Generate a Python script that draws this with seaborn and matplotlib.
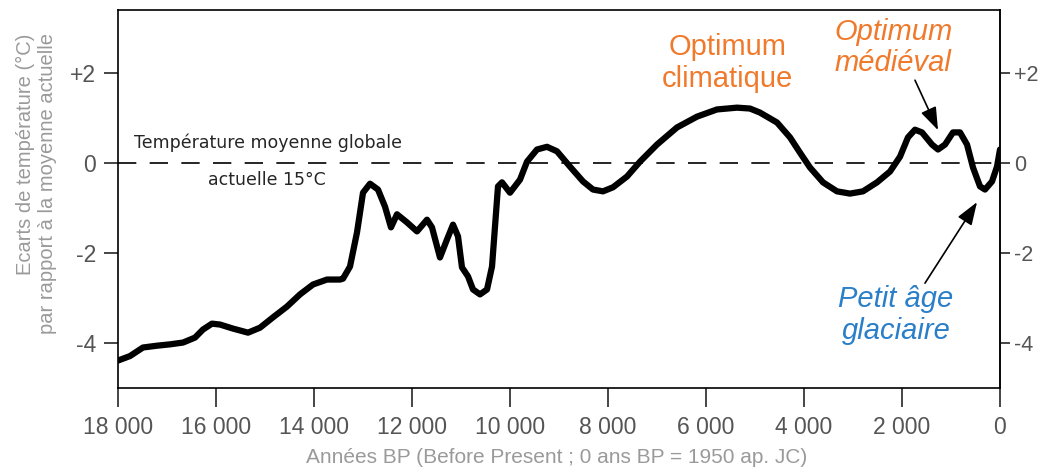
import matplotlib
matplotlib.use("Agg")
import matplotlib.pyplot as plt
import seaborn as sns

# years BP and temperature anomaly (°C)
years = [18000, 17755, 17490, 17204, 16939, 16673, 16429, 16265, 16082, 15918,
         15653, 15347, 15102, 14837, 14551, 14286, 14020, 13735, 13469, 13408,
         13265, 13122, 13000, 12857, 12694, 12551, 12429, 12306, 12102, 11898,
         11694, 11592, 11429, 11286, 11163, 11061, 10980, 10857, 10755, 10612,
         10469, 10367, 10306, 10245, 10163, 10000, 9796, 9653, 9449, 9245,
         9041, 8776, 8510, 8306, 8102, 7898, 7612, 7347, 7000, 6592,
         6184, 5776, 5367, 5102, 4898, 4551, 4286, 4082, 3878, 3612,
         3327, 3061, 2796, 2510, 2245, 2041, 1878, 1735, 1592, 1388,
         1265, 1122, 959, 816, 673, 551, 408, 306, 163, 61, 0]
anomaly = [-4.39, -4.29, -4.10, -4.06, -4.03, -3.99, -3.88, -3.70, -3.57, -3.59,
           -3.68, -3.77, -3.66, -3.43, -3.19, -2.92, -2.70, -2.59, -2.59, -2.57,
           -2.30, -1.54, -0.66, -0.46, -0.59, -0.97, -1.43, -1.14, -1.32, -1.52,
           -1.26, -1.43, -2.10, -1.70, -1.37, -1.63, -2.32, -2.52, -2.81, -2.92,
           -2.81, -2.30, -1.41, -0.52, -0.43, -0.66, -0.37, 0.03, 0.30, 0.36,
           0.26, -0.08, -0.41, -0.59, -0.63, -0.54, -0.30, 0.03, 0.41, 0.79,
           1.03, 1.19, 1.23, 1.21, 1.12, 0.90, 0.57, 0.23, -0.10, -0.43,
           -0.63, -0.68, -0.63, -0.43, -0.19, 0.14, 0.57, 0.74, 0.68, 0.41,
           0.30, 0.41, 0.68, 0.68, 0.41, -0.10, -0.52, -0.59, -0.41, -0.08, 0.30]

xticks = [18000, 16000, 14000, 12000, 10000, 8000, 6000, 4000, 2000, 0]
xtick_labels = ["18 000", "16 000", "14 000", "12 000", "10 000",
                "8 000", "6 000", "4 000", "2 000", "0"]
yticks = [2, 0, -2, -4]
ytick_labels = ["+2", "0", "-2", "-4"]

ORANGE = "#f07a2c"
BLUE = "#2a7fc8"
TICK_GREY = "#555555"
LABEL_GREY = "#9a9a9a"

sns.set_style("white")
plt.rcParams['font.family'] = ['Liberation Sans', 'DejaVu Sans']

fig = plt.figure(figsize=(10.43, 4.73), dpi=100)
ax = fig.add_axes([118 / 1043, 1 - 388 / 473, 882 / 1043, 378 / 473])

sns.lineplot(x=years, y=anomaly, ax=ax, color="black", linewidth=4.5,
             sort=False, solid_joinstyle="round", solid_capstyle="round")
ax.axhline(0, color="black", linewidth=1.2, linestyle=(0, (11, 8)), zorder=1)

ax.set_xlim(18000, 0)
ax.set_ylim(-5, 3.4)
ax.set_xticks(xticks)
ax.set_xticklabels(xtick_labels)
ax.set_yticks(yticks)
ax.set_yticklabels(ytick_labels)
ax.set_xlabel("")
ax.set_ylabel("")

for sp in ax.spines.values():
    sp.set_visible(True)
    sp.set_color("black")
    sp.set_linewidth(1.2)

ax.tick_params(axis="x", direction="out", length=14, width=1.2,
               labelsize=16.5, labelcolor=TICK_GREY, pad=6, bottom=True)
ax.tick_params(axis="y", direction="out", length=10, width=1.2,
               labelsize=16.5, labelcolor=TICK_GREY, pad=6,
               left=True, right=False, labelleft=True, labelright=False)

# right-hand scale, shorter ticks and closer labels
ax_r = ax.secondary_yaxis("right")
ax_r.set_yticks(yticks)
ax_r.set_yticklabels(ytick_labels)
ax_r.spines["right"].set_linewidth(1.2)
ax_r.tick_params(direction="out", length=7, width=1.2, labelsize=15.5,
                 labelcolor=TICK_GREY, pad=3)

fig.text(36 / 1043, 1 - 184 / 473,
         "Ecarts de température (°C)\npar rapport à la moyenne actuelle",
         rotation=90, ha="center", va="center", multialignment="right",
         fontsize=14.5, color=LABEL_GREY, linespacing=1.2)
fig.text(557 / 1043, 1 - 457 / 473,
         "Années BP (Before Present ; 0 ans BP = 1950 ap. JC)",
         ha="center", va="center", fontsize=15, color=LABEL_GREY)

ax.text(14940, 0.44, "Température moyenne globale", ha="center", va="center",
        fontsize=12.5, family="DejaVu Sans")
ax.text(14960, -0.38, "actuelle 15°C", ha="center", va="center",
        fontsize=12.5, family="DejaVu Sans")

ax.text(5570, 2.22, "Optimum\nclimatique", ha="center", va="center",
        fontsize=21, color=ORANGE, linespacing=1.15)
ax.text(2180, 2.56, "Optimum\nmédiéval", ha="center", va="center",
        fontsize=21, color=ORANGE, style="italic", linespacing=1.15)
ax.text(2120, -3.38, "Petit âge\nglaciaire", ha="center", va="center",
        fontsize=21, color=BLUE, style="italic", linespacing=1.15)

arrow = dict(arrowstyle="-|>,head_length=1.4,head_width=0.5",
             color="black", lw=1.2, shrinkA=0, shrinkB=0)
ax.annotate("", xy=(1265, 0.73), xytext=(1735, 1.84), arrowprops=arrow)
ax.annotate("", xy=(469, -0.87), xytext=(1531, -2.67), arrowprops=arrow)

fig.savefig("out.png", dpi=100)
